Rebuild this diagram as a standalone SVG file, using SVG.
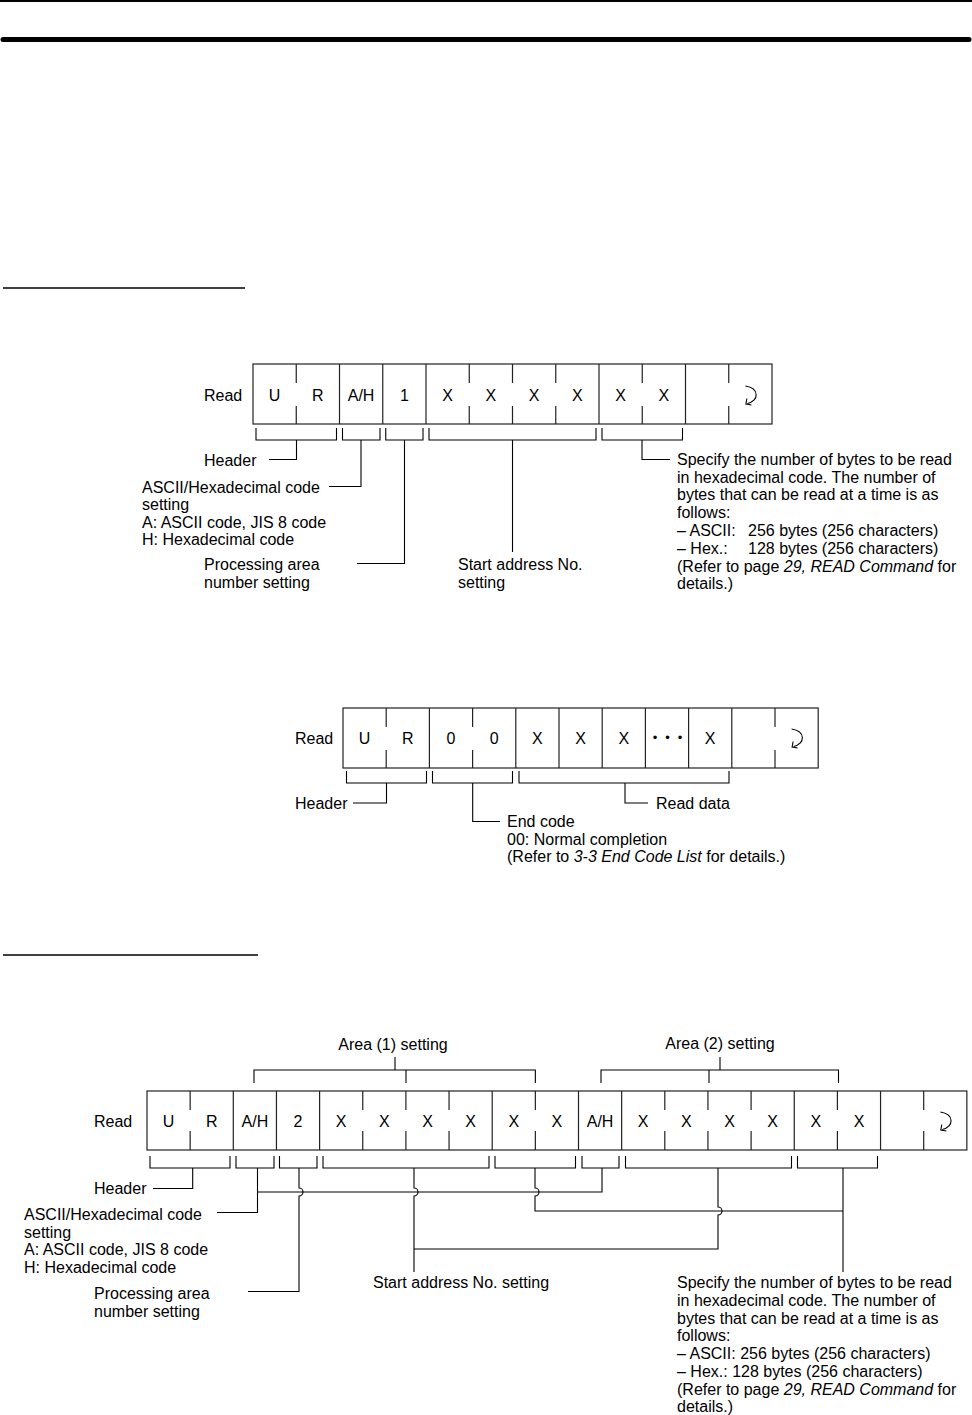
<svg xmlns="http://www.w3.org/2000/svg" xmlns:xlink="http://www.w3.org/1999/xlink" width="972" height="1415" viewBox="0 0 972 1415">
<style>
.t{font-family:"Liberation Sans",Arial,Helvetica,sans-serif;font-size:16px;fill:#000}
.c{text-anchor:middle}
.i{font-style:italic}
.ln{stroke:#000;stroke-width:1.1;fill:none}
.box{stroke:#222;stroke-width:1.2;fill:#fff}
.dv{stroke:#222;stroke-width:1.2}
</style>
<defs>
<g id="cr" class="ln">
<path d="M-5 -9 C 9 -7, 9 6, -3 8.5"/>
<path d="M-3.5 3.5 L-4.5 9 L1 10"/>
</g>
</defs>
<rect width="972" height="1415" fill="#fff"/>
<g id="page-rules">
<line x1="0" y1="1" x2="972" y2="1" stroke="#000" stroke-width="2"/>
<line x1="3" y1="39.5" x2="969" y2="39.5" stroke="#000" stroke-width="5" stroke-linecap="round"/>
<line x1="3" y1="288" x2="245" y2="288" stroke="#000" stroke-width="1.4"/>
<line x1="3" y1="955" x2="258" y2="955" stroke="#000" stroke-width="1.4"/>
</g>

<!-- Diagram 1 -->
<g id="d1-frame">
<text class="t" x="204" y="400.5">Read</text>
<rect class="box" x="253" y="364" width="519" height="60"/>
<g class="dv">
<line x1="339.5" y1="364" x2="339.5" y2="424"/>
<line x1="382.75" y1="364" x2="382.75" y2="424"/>
<line x1="426" y1="364" x2="426" y2="424"/>
<line x1="599" y1="364" x2="599" y2="424"/>
<line x1="685.5" y1="364" x2="685.5" y2="424"/>
<path d="M296.25 364V383M296.25 406V424M469.25 364V383M469.25 406V424M512.5 364V383M512.5 406V424M555.75 364V383M555.75 406V424M642.25 364V383M642.25 406V424M728.75 364V383M728.75 406V424"/>
</g>
</g>
<g id="d1-header"><text class="t c" x="274.6" y="400.5">U</text><text class="t c" x="317.9" y="400.5">R</text></g>
<g id="d1-ah"><text class="t c" x="361.1" y="400.5">A/H</text></g>
<g id="d1-area"><text class="t c" x="404.4" y="400.5">1</text></g>
<g id="d1-addr"><text class="t c" x="447.6" y="400.5">X</text><text class="t c" x="490.9" y="400.5">X</text><text class="t c" x="534.1" y="400.5">X</text><text class="t c" x="577.4" y="400.5">X</text></g>
<g id="d1-bytes"><text class="t c" x="620.6" y="400.5">X</text><text class="t c" x="663.9" y="400.5">X</text></g>
<g id="d1-term"><use xlink:href="#cr" href="#cr" x="750.4" y="395"/></g>

<g id="d1-label-header"><text class="t" x="204" y="465.5">Header</text></g>
<g id="d1-label-ah"><text class="t" x="142" y="492.5">ASCII/Hexadecimal code</text><text class="t" x="142" y="510">setting</text><text class="t" x="142" y="527.5">A: ASCII code, JIS 8 code</text><text class="t" x="142" y="545">H: Hexadecimal code</text></g>
<g id="d1-label-area"><text class="t" x="204" y="570">Processing area</text><text class="t" x="204" y="587.5">number setting</text></g>
<g id="d1-label-addr"><text class="t" x="458" y="570">Start address No.</text><text class="t" x="458" y="587.5">setting</text></g>
<g id="d1-label-bytes">
<text class="t" x="677" y="465">Specify the number of bytes to be read</text>
<text class="t" x="677" y="482.5">in hexadecimal code. The number of</text>
<text class="t" x="677" y="500">bytes that can be read at a time is as</text>
<text class="t" x="677" y="517.5">follows:</text>
<text class="t" x="677" y="535.5">– ASCII:<tspan x="748">256 bytes (256 characters)</tspan></text>
<text class="t" x="677" y="553.5">– Hex.:<tspan x="748">128 bytes (256 characters)</tspan></text>
<text class="t" x="677" y="571.5">(Refer to page <tspan class="i">29, READ Command</tspan> for</text>
<text class="t" x="677" y="589">details.)</text>
</g>

<g id="d1-connectors" class="ln">
<path d="M256 428V440H336.5V428M342.5 428V440H380V428M385.75 428V440H423V428M429 428V440H596V428M602 428V440H682.5V428"/>
<path d="M296.5 440V459.5H269"/>
<path d="M361 440V486.5H329"/>
<path d="M404.5 440V563.5H357"/>
<path d="M512.5 440V552"/>
<path d="M642 440V459.5H670"/>
</g>

<!-- Diagram 2 -->
<g id="d2-frame">
<text class="t" x="295" y="743.5">Read</text>
<rect class="box" x="343" y="708" width="475.2" height="60"/>
<g class="dv">
<path d="M429.4 708V768M515.8 708V768M559 708V768M602.2 708V768M645.4 708V768M688.6 708V768M731.8 708V768"/>
<path d="M386.2 708V727M386.2 750V768M472.6 708V727M472.6 750V768M775 708V727M775 750V768"/>
</g>
</g>
<g id="d2-header"><text class="t c" x="364.6" y="743.5">U</text><text class="t c" x="407.8" y="743.5">R</text></g>
<g id="d2-end"><text class="t c" x="451" y="743.5">0</text><text class="t c" x="494.2" y="743.5">0</text></g>
<g id="d2-data"><text class="t c" x="537.4" y="743.5">X</text><text class="t c" x="580.6" y="743.5">X</text><text class="t c" x="623.8" y="743.5">X</text><text class="t c" y="742" style="font-size:13px"><tspan x="655">•</tspan><tspan x="667.5">•</tspan><tspan x="680">•</tspan></text><text class="t c" x="710.2" y="743.5">X</text></g>
<g id="d2-term"><use xlink:href="#cr" href="#cr" x="796.6" y="738"/></g>

<g id="d2-label-header"><text class="t" x="295" y="808.5">Header</text></g>
<g id="d2-label-end"><text class="t" x="507" y="827">End code</text><text class="t" x="507" y="844.5">00: Normal completion</text><text class="t" x="507" y="862">(Refer to <tspan class="i">3-3 End Code List</tspan> for details.)</text></g>
<g id="d2-label-data"><text class="t" x="656" y="808.5">Read data</text></g>

<g id="d2-connectors" class="ln">
<path d="M346.5 771V783H426.5V771M432.5 771V783H512.5V771M519 771V783H729V771"/>
<path d="M386.5 783V803H353"/>
<path d="M472.7 783V821.5H500"/>
<path d="M625 783V803H648"/>
</g>

<!-- Diagram 3 -->
<g id="d3-area1"><text class="t c" x="393" y="1049.5">Area (1) setting</text></g>
<g id="d3-area2"><text class="t c" x="720" y="1048.5">Area (2) setting</text></g>
<g id="d3-frame">
<text class="t" x="94" y="1126.5">Read</text>
<rect class="box" x="147" y="1091" width="819.85" height="59"/>
<g class="dv">
<path d="M233.3 1091V1150M276.45 1091V1150M319.6 1091V1150M492.2 1091V1150M578.5 1091V1150M621.65 1091V1150M794.25 1091V1150M880.55 1091V1150"/>
<path d="M190.15 1091V1110M190.15 1131V1150M362.75 1091V1110M362.75 1131V1150M405.9 1091V1110M405.9 1131V1150M449.05 1091V1110M449.05 1131V1150M535.35 1091V1110M535.35 1131V1150M664.8 1091V1110M664.8 1131V1150M707.95 1091V1110M707.95 1131V1150M751.1 1091V1110M751.1 1131V1150M837.4 1091V1110M837.4 1131V1150M923.7 1091V1110M923.7 1131V1150"/>
</g>
</g>
<g id="d3-header"><text class="t c" x="168.6" y="1126.5">U</text><text class="t c" x="211.7" y="1126.5">R</text></g>
<g id="d3-ah1"><text class="t c" x="254.9" y="1126.5">A/H</text></g>
<g id="d3-area"><text class="t c" x="298" y="1126.5">2</text></g>
<g id="d3-addr1"><text class="t c" x="341.2" y="1126.5">X</text><text class="t c" x="384.3" y="1126.5">X</text><text class="t c" x="427.5" y="1126.5">X</text><text class="t c" x="470.6" y="1126.5">X</text></g>
<g id="d3-bytes1"><text class="t c" x="513.8" y="1126.5">X</text><text class="t c" x="556.9" y="1126.5">X</text></g>
<g id="d3-ah2"><text class="t c" x="600.1" y="1126.5">A/H</text></g>
<g id="d3-addr2"><text class="t c" x="643.2" y="1126.5">X</text><text class="t c" x="686.4" y="1126.5">X</text><text class="t c" x="729.5" y="1126.5">X</text><text class="t c" x="772.7" y="1126.5">X</text></g>
<g id="d3-bytes2"><text class="t c" x="815.8" y="1126.5">X</text><text class="t c" x="859" y="1126.5">X</text></g>
<g id="d3-term"><use xlink:href="#cr" href="#cr" x="945.3" y="1121"/></g>

<g id="d3-label-header"><text class="t" x="94" y="1194">Header</text></g>
<g id="d3-label-ah"><text class="t" x="24" y="1220">ASCII/Hexadecimal code</text><text class="t" x="24" y="1237.5">setting</text><text class="t" x="24" y="1255">A: ASCII code, JIS 8 code</text><text class="t" x="24" y="1273">H: Hexadecimal code</text></g>
<g id="d3-label-area"><text class="t" x="94" y="1298.5">Processing area</text><text class="t" x="94" y="1316.5">number setting</text></g>
<g id="d3-label-addr"><text class="t" x="373" y="1288">Start address No. setting</text></g>
<g id="d3-label-bytes">
<text class="t" x="677" y="1287.5">Specify the number of bytes to be read</text>
<text class="t" x="677" y="1305.5">in hexadecimal code. The number of</text>
<text class="t" x="677" y="1323.5">bytes that can be read at a time is as</text>
<text class="t" x="677" y="1341">follows:</text>
<text class="t" x="677" y="1359">– ASCII: 256 bytes (256 characters)</text>
<text class="t" x="677" y="1376.5">– Hex.: 128 bytes (256 characters)</text>
<text class="t" x="677" y="1394.5">(Refer to page <tspan class="i">29, READ Command</tspan> for</text>
<text class="t" x="677" y="1412">details.)</text>
</g>

<g id="d3-connectors" class="ln">
<path d="M254 1083V1070H535.35V1083M406 1070V1083M395 1070V1057"/>
<path d="M601 1083V1070H838.5V1083M709 1070V1083M720 1070V1057"/>
<path d="M150 1156V1168H230V1156M236 1156V1168H274V1156M279.5 1156V1168H317V1156M323 1156V1168H489V1156M495 1156V1168H575.5V1156M582 1156V1168H619V1156M625.5 1156V1168H791.5V1156M797.5 1156V1168H877.5V1156"/>
<path d="M192.7 1168V1188.5H153"/>
<path d="M257.5 1168V1212.5H217"/>
<path d="M257.5 1192H602V1168"/>
<path d="M299 1168V1188A4 4 0 0 1 299 1196V1291.5H248"/>
<path d="M414 1168V1188A4 4 0 0 1 414 1196V1272"/>
<path d="M414 1249H718V1215A4 4 0 0 0 718 1207V1168"/>
<path d="M535 1168V1188A4 4 0 0 1 535 1196V1211H843"/>
<path d="M843 1168V1272"/>
</g>
</svg>
